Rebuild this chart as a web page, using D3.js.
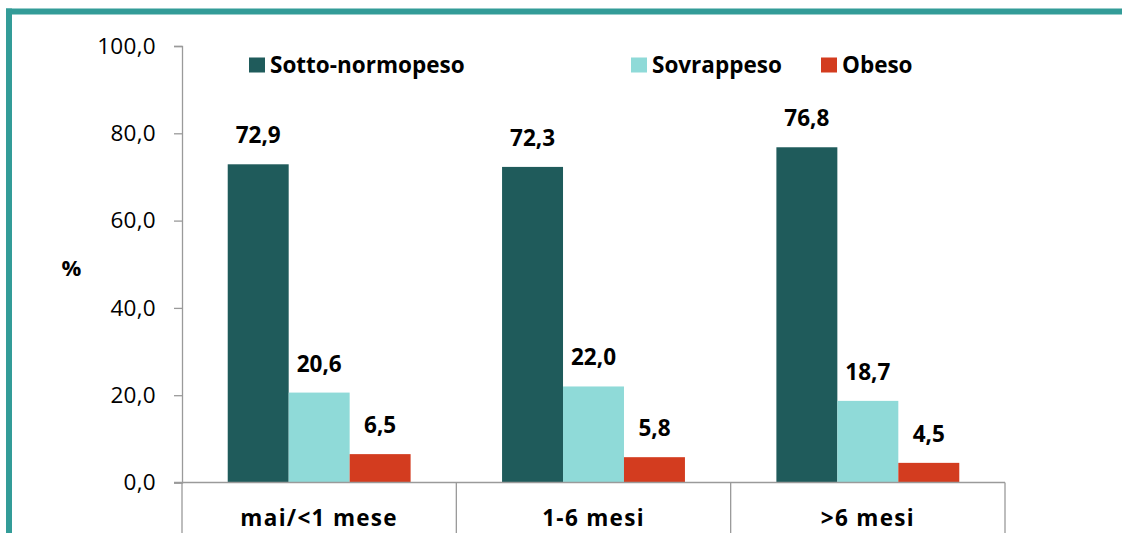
<!DOCTYPE html>
<html><head><meta charset="utf-8">
<script src="https://cdn.jsdelivr.net/npm/d3@7"></script>
<style>
html,body{margin:0;padding:0;background:#fff;}
svg{display:block;font-family:"Open Sans",sans-serif;}
</style></head>
<body>
<svg id="chart" width="1122" height="533"></svg>
<script>
const categories = ["mai/<1 mese", "1-6 mesi", ">6 mesi"];
const seriesNames = ["Sotto-normopeso", "Sovrappeso", "Obeso"];
const sottoNormopeso = [72.9, 72.3, 76.8];
const sovrappeso = [20.6, 22.0, 18.7];
const obeso = [6.5, 5.8, 4.5];
const yTicks = [0, 20, 40, 60, 80, 100];
const colors = ["#1f5b5b", "#8fdad8", "#d33c1f"];

const series = [sottoNormopeso, sovrappeso, obeso];
const svg = d3.select("#chart");
const fmt = v => v.toFixed(1).replace(".", ",");
const FONT = "'Open Sans',sans-serif";

// frame
svg.append("line").attr("x1",6).attr("x2",1122).attr("y1",11.5).attr("y2",11.5)
  .attr("stroke","#339c98").attr("stroke-width",6);
svg.append("line").attr("x1",9).attr("x2",9).attr("y1",8.5).attr("y2",533)
  .attr("stroke","#339c98").attr("stroke-width",6);

const x0 = 182, x1 = 1005, yTop = 46, yBot = 482.5;
const y = d3.scaleLinear().domain([0,100]).range([yBot, yTop]);
const xb = d3.scaleBand().domain(categories).range([x0, x1]).paddingInner(0).paddingOuter(0);
const xi = d3.scaleBand().domain(seriesNames).range([0, xb.bandwidth()]).paddingInner(0).paddingOuter(0.75);

// y axis
const yAxis = d3.axisLeft(y).tickValues(yTicks).tickFormat(fmt).tickSizeOuter(0).tickSize(8).tickPadding(18);
const gy = svg.append("g").attr("transform",`translate(${x0},0)`).call(yAxis);
gy.select(".domain").attr("stroke","#9a9a9a").attr("stroke-width",1.3);
gy.selectAll(".tick line").attr("stroke","#9a9a9a").attr("stroke-width",1.3);
gy.selectAll(".tick text").attr("font-size",22.5).attr("fill","#000").attr("font-family",FONT)
  .attr("letter-spacing", 0.3);

// bars
const groups = svg.append("g").selectAll("g").data(categories).join("g")
  .attr("transform", d => `translate(${xb(d)},0)`);
seriesNames.forEach((s, si) => {
  groups.append("rect")
    .attr("x", xi(s))
    .attr("width", xi.bandwidth())
    .attr("y", (d,ci) => y(series[si][ci]))
    .attr("height", (d,ci) => yBot - y(series[si][ci]))
    .attr("fill", colors[si]);
  groups.append("text")
    .attr("x", xi(s) + xi.bandwidth()/2)
    .attr("y", (d,ci) => y(series[si][ci]) - 21)
    .attr("text-anchor","middle")
    .attr("font-size",22.5).attr("font-weight","bold").attr("fill","#000")
    .text((d,ci) => fmt(series[si][ci]));
});

// x axis
svg.append("line").attr("x1",x0-8).attr("x2",x1).attr("y1",yBot).attr("y2",yBot)
  .attr("stroke","#9a9a9a").attr("stroke-width",1.3);
const bounds = categories.map(c => xb(c)).concat([x1]);
svg.append("g").selectAll("line").data(bounds).join("line")
  .attr("x1", d => d).attr("x2", d => d).attr("y1", yBot).attr("y2", 533)
  .attr("stroke","#9a9a9a").attr("stroke-width",1.3);
svg.append("g").selectAll("text").data(categories).join("text")
  .attr("x", d => xb(d) + xb.bandwidth()/2).attr("y", 526)
  .attr("text-anchor","middle").attr("font-size",22.5).attr("font-weight","bold").attr("fill","#000")
  .attr("letter-spacing", 1.3)
  .text(d => d);

// y label
svg.append("text").attr("x",71.5).attr("y",276).attr("text-anchor","middle")
  .attr("font-size",22).attr("font-weight","bold").text("%");

// legend
const legendX = [249, 631, 821];
const lg = svg.append("g").selectAll("g").data(seriesNames).join("g")
  .attr("transform", (d,i) => `translate(${legendX[i]},0)`);
lg.append("rect").attr("x",0).attr("y",57.5).attr("width",16).attr("height",15)
  .attr("fill", (d,i) => colors[i]);
lg.append("text").attr("x",21).attr("y",72.5).attr("font-size",22.5).attr("font-weight","bold")
  .attr("fill","#000").text(d => d);
</script>
</body></html>
